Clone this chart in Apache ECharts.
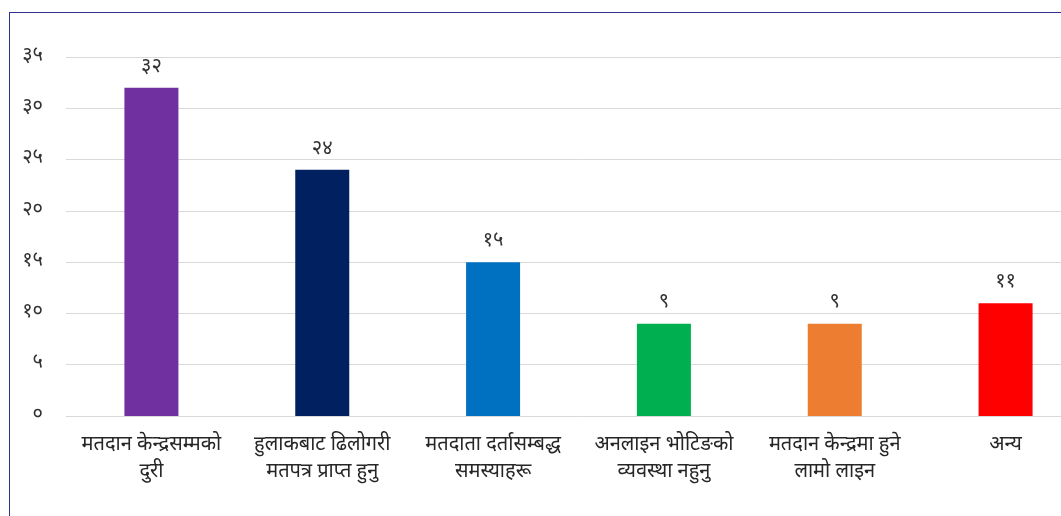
<!DOCTYPE html>
<html>
<head>
<meta charset="utf-8">
<script src="https://cdn.jsdelivr.net/npm/echarts@6/dist/echarts.min.js"></script>
<style>
html,body{margin:0;padding:0;background:#fff;overflow:hidden;width:1061px;height:516px;}
#frame{position:absolute;left:9px;top:12px;width:1100px;height:600px;border-left:1.5px solid #2E3192;border-top:1.5px solid #2E3192;box-sizing:border-box;}
#chart{position:absolute;left:0;top:0;width:1100px;height:516px;}
</style>
</head>
<body>
<div id="frame"></div>
<div id="chart"></div>
<script>
const categories = [
  'मतदान केन्द्रसम्मको\nदुरी',
  'हुलाकबाट ढिलोगरी\nमतपत्र प्राप्त हुनु',
  'मतदाता दर्तासम्बद्ध\nसमस्याहरू',
  'अनलाइन भोटिङको\nव्यवस्था नहुनु',
  'मतदान केन्द्रमा हुने\nलामो लाइन',
  'अन्य'
];
const values = [32, 24, 15, 9, 9, 11];
const valueLabels = ['३२', '२४', '१५', '९', '९', '११'];
const barColors = ['#7030A0', '#002060', '#0070C0', '#00B050', '#ED7D31', '#FF0000'];
const yTicks = [0, 5, 10, 15, 20, 25, 30, 35];
const yTickLabels = ['०', '५', '१०', '१५', '२०', '२५', '३०', '३५'];

const fontFam = '"Noto Sans Devanagari","Noto Sans","Lohit Devanagari","Mangal",sans-serif';
const chart = echarts.init(document.getElementById('chart'), null, {renderer: 'canvas'});
chart.setOption({
  animation: false,
  grid: {left: 66, top: 57, right: 9, bottom: 100, containLabel: false},
  xAxis: {
    type: 'category',
    data: categories,
    axisLine: {lineStyle: {color: '#D9D9D9', width: 1}},
    axisTick: {show: false},
    axisLabel: {color: '#262626', fontSize: 20, lineHeight: 27, margin: 17, interval: 0, fontFamily: fontFam}
  },
  yAxis: {
    type: 'value',
    min: 0, max: 35, interval: 5,
    axisLine: {show: false},
    axisTick: {show: false},
    splitLine: {lineStyle: {color: '#D9D9D9', width: 1}},
    axisLabel: {
      color: '#333', fontSize: 20, margin: 23, fontFamily: fontFam,
      formatter: v => yTickLabels[yTicks.indexOf(v)]
    }
  },
  series: [{
    type: 'bar',
    barWidth: 54,
    data: values.map((v, i) => ({value: v, itemStyle: {color: barColors[i]}})),
    label: {
      show: true, position: 'top', distance: 10, color: '#333', fontSize: 20, fontFamily: fontFam,
      formatter: p => valueLabels[p.dataIndex]
    }
  }]
});
</script>
</body>
</html>
